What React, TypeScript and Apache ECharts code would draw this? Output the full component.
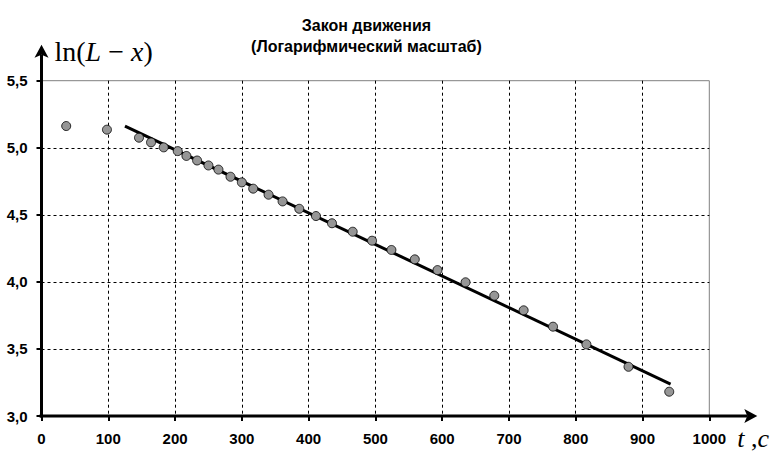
import React, { useEffect, useRef } from "react";
import * as echarts from "echarts";

const timeValues = [37, 98, 146, 164, 183, 204, 217, 233, 250, 265, 283, 300, 317, 340, 361, 386, 411, 435, 466, 495, 524, 559, 593, 635, 678, 722, 766, 816, 879, 940];
const lnValues = [5.162, 5.135, 5.075, 5.04, 5.003, 4.975, 4.939, 4.905, 4.868, 4.837, 4.784, 4.742, 4.695, 4.65, 4.6, 4.545, 4.491, 4.437, 4.374, 4.307, 4.238, 4.168, 4.088, 3.997, 3.897, 3.788, 3.666, 3.534, 3.367, 3.181];
const trendT = [125, 942];
const trendY = [5.162, 3.238];
const xTicks = { min: 0, max: 1000, interval: 100 };
const yTicks = { min: 3, max: 5.5, interval: 0.5 };
const titleLines = ["Закон движения", "(Логарифмический масштаб)"];

const SANS = "'Liberation Sans', Arial, sans-serif";
const SERIF = "'Liberation Serif', 'Times New Roman', serif";

export default function App() {
  const ref = useRef<HTMLDivElement>(null);
  useEffect(() => {
    if (!ref.current) return;
    const chart = echarts.init(ref.current, null, { renderer: "svg" });
    const scatterData = timeValues.map((t, i) => [t, lnValues[i]]);
    const trendData = trendT.map((t, i) => [t, trendY[i]]);
    chart.setOption({
      animation: false,
      backgroundColor: "#ffffff",
      grid: {
        left: 41.5,
        right: 68.7,
        top: 80.7,
        bottom: 43,
        show: true,
        borderColor: "#808080",
        borderWidth: 1,
        backgroundColor: "transparent",
      },
      xAxis: {
        type: "value",
        min: xTicks.min,
        max: xTicks.max,
        interval: xTicks.interval,
        axisLine: { show: false },
        axisTick: { show: true, length: 5, lineStyle: { color: "#000", width: 2 } },
        axisLabel: {
          color: "#000",
          fontFamily: SANS,
          fontWeight: "bold",
          fontSize: 15,
          margin: 15,
          formatter: (v: number) => String(v),
        },
        splitLine: {
          show: true,
          showMinLine: false,
          showMaxLine: false,
          lineStyle: { color: "#000", width: 1, type: [3, 3] },
        },
      },
      yAxis: {
        type: "value",
        min: yTicks.min,
        max: yTicks.max,
        interval: yTicks.interval,
        axisLine: { show: false },
        axisTick: { show: true, length: 5, lineStyle: { color: "#000", width: 2 } },
        axisLabel: {
          color: "#000",
          fontFamily: SANS,
          fontWeight: "bold",
          fontSize: 15,
          margin: 14,
          formatter: (v: number) => v.toFixed(1).replace(".", ","),
        },
        splitLine: {
          show: true,
          showMinLine: false,
          showMaxLine: false,
          lineStyle: { color: "#000", width: 1, type: [3, 3] },
        },
      },
      series: [
        {
          type: "line",
          data: trendData,
          showSymbol: false,
          symbol: "none",
          lineStyle: { color: "#000", width: 3 },
          z: 3,
        },
        {
          type: "scatter",
          data: scatterData,
          symbol: "circle",
          symbolSize: 9,
          itemStyle: { color: "#969696", borderColor: "#000", borderWidth: 0.8, opacity: 1 },
          z: 4,
        },
      ],
    });

    const o = chart.convertToPixel({ xAxisIndex: 0, yAxisIndex: 0 }, [xTicks.min, yTicks.min]) as number[];
    const xe = chart.convertToPixel({ xAxisIndex: 0, yAxisIndex: 0 }, [xTicks.max, yTicks.min]) as number[];
    const ye = chart.convertToPixel({ xAxisIndex: 0, yAxisIndex: 0 }, [xTicks.min, yTicks.max]) as number[];
    const xTip = xe[0] + 48;
    const yTip = ye[1] - 36;
    const plotCenter = (o[0] + xe[0]) / 2;

    chart.setOption({
      graphic: [
        {
          type: "line",
          shape: { x1: o[0] - 2, y1: o[1], x2: xTip - 10, y2: o[1] },
          style: { stroke: "#000", lineWidth: 3 },
          z: 10,
        },
        {
          type: "polygon",
          shape: { points: [[xTip, o[1]], [xTip - 13, o[1] - 7], [xTip - 10, o[1]], [xTip - 13, o[1] + 7]] },
          style: { fill: "#000" },
          z: 10,
        },
        {
          type: "line",
          shape: { x1: o[0], y1: o[1] + 1.5, x2: o[0], y2: yTip + 10 },
          style: { stroke: "#000", lineWidth: 3 },
          z: 10,
        },
        {
          type: "polygon",
          shape: { points: [[o[0], yTip], [o[0] - 7, yTip + 13], [o[0], yTip + 10], [o[0] + 7, yTip + 13]] },
          style: { fill: "#000" },
          z: 10,
        },
        {
          type: "text",
          x: o[0] + 13,
          y: yTip + 7,
          style: {
            text: "{n|ln(}{i|L}{n| − }{i|x}{n|)}",
            textVerticalAlign: "middle",
            rich: {
              n: { fontFamily: SERIF, fontSize: 28, fontStyle: "normal", fill: "#000" },
              i: { fontFamily: SERIF, fontSize: 28, fontStyle: "italic", fill: "#000" },
            },
          },
          z: 10,
        },
        {
          type: "text",
          x: xe[0] + 28,
          y: o[1] + 22,
          style: {
            text: "{i|t}{n| ,}{i|c}",
            textVerticalAlign: "middle",
            rich: {
              n: { fontFamily: SERIF, fontSize: 26, fontStyle: "normal", fill: "#000" },
              i: { fontFamily: SERIF, fontSize: 26, fontStyle: "italic", fill: "#000" },
            },
          },
          z: 10,
        },
        {
          type: "text",
          x: plotCenter - 9,
          y: 15,
          style: {
            text: titleLines.join("\n"),
            textAlign: "center",
            textVerticalAlign: "top",
            fontFamily: SANS,
            fontWeight: "bold",
            fontSize: 16,
            lineHeight: 21,
            fill: "#000",
          },
          z: 10,
        },
      ],
    });

    return () => chart.dispose();
  }, []);
  return (
    <div
      ref={ref}
      style={{ position: "absolute", left: 0, top: 0, width: 778, height: 459 }}
    />
  );
}
